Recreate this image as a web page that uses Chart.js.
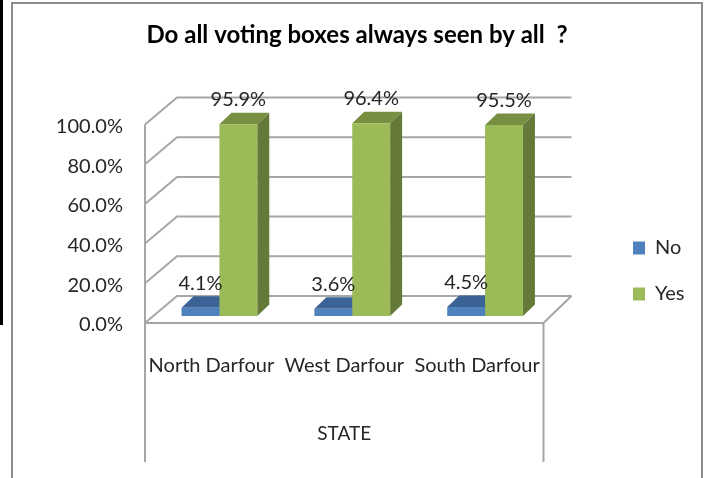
<!DOCTYPE html>
<html>
<head>
<meta charset="utf-8">
<title>Voting boxes</title>
<script src="https://cdn.jsdelivr.net/npm/chart.js"></script>
<style>
    html, body { margin: 0; padding: 0; background: #fff; }
    #wrap { position: relative; width: 707px; height: 478px; overflow: hidden; }
    #chart { position: absolute; left: 0; top: 0; }
    /* outer frame around the chart, open at the bottom */
    #frame { position: absolute; left: 11px; top: 2px; width: 688px; height: 500px; border: 2px solid #8c8c8c; }
    #blackEdge { position: absolute; left: 0; top: 0; width: 3px; height: 325px; background: #000; }
</style>
</head>
<body>
<div id="wrap">
    <canvas id="chart" width="707" height="478"></canvas>
    <div id="blackEdge"></div>
    <div id="frame"></div>
</div>
<script>
const chartTitle = 'Do all voting boxes always seen by all  ?';
const axisTitle = 'STATE';
const states = ['North Darfour', 'West Darfour', 'South Darfour'];
const noValues = [4.1, 3.6, 4.5];
const yesValues = [95.9, 96.4, 95.5];
const yTicks = [0, 20, 40, 60, 80, 100];

const fontName = 'Lato, "Open Sans", sans-serif';
const textColor = '#262626';
const gridColor = '#a6a6a6';

// depth of the fake 3D box and of the columns, in pixels
const wallDx = 32, wallDy = -27;
const barDx = 12, barDy = -11.5;
// columns stand a little inside the floor
const barShiftX = 8;

function shade(ctx, points, color) {
    ctx.fillStyle = color;
    ctx.beginPath();
    points.forEach((p, i) => i ? ctx.lineTo(p[0], p[1]) : ctx.moveTo(p[0], p[1]));
    ctx.closePath();
    ctx.fill();
}

// Back wall, left wall, floor and the two drop lines under the floor
const boxPlugin = {
    id: 'box',
    beforeDatasetsDraw(chart) {
        const ctx = chart.ctx;
        const y = chart.scales.y;
        const left = chart.chartArea.left, right = chart.chartArea.right;
        const zero = y.getPixelForValue(0);
        ctx.save();
        ctx.strokeStyle = gridColor;
        ctx.lineWidth = 2;
        yTicks.forEach(t => {
            const py = y.getPixelForValue(t);
            ctx.beginPath();
            ctx.moveTo(left, py);
            ctx.lineTo(left + wallDx, py + wallDy);
            ctx.lineTo(right + wallDx - 4, py + wallDy);
            ctx.stroke();
        });
        ctx.beginPath();
        ctx.moveTo(left, y.getPixelForValue(100));
        ctx.lineTo(left, 462);
        ctx.moveTo(right, 462);
        ctx.lineTo(right, zero);
        ctx.lineTo(right + wallDx - 4, zero + wallDy);
        ctx.moveTo(left, zero);
        ctx.lineTo(right, zero);
        ctx.stroke();
        ctx.restore();
    }
};

// Top and side faces of each column, then the value labels
const columnPlugin = {
    id: 'columns',
    beforeDatasetsDraw(chart) {
        const ctx = chart.ctx;
        ctx.save();
        ctx.translate(barShiftX, 0);
        const faces = [['#3b6395', '#3b6395'], ['#778f41', '#657a39']];
        chart.data.datasets.forEach((ds, i) => {
            chart.getDatasetMeta(i).data.forEach(bar => {
                const l = bar.x - bar.width / 2, r = bar.x + bar.width / 2;
                shade(ctx, [[l, bar.y], [l + barDx, bar.y + barDy], [r + barDx, bar.y + barDy], [r, bar.y]], faces[i][0]);
                shade(ctx, [[r, bar.y], [r + barDx, bar.y + barDy], [r + barDx, bar.base + barDy], [r, bar.base]], faces[i][1]);
            });
        });
    },
    afterDatasetsDraw(chart) {
        const ctx = chart.ctx;
        ctx.restore();
        ctx.save();
        ctx.font = '20px ' + fontName;
        ctx.fillStyle = textColor;
        ctx.textAlign = 'center';
        ctx.textBaseline = 'middle';
        chart.data.datasets.forEach((ds, i) => {
            chart.getDatasetMeta(i).data.forEach((bar, j) => {
                ctx.fillText(ds.data[j].toFixed(1) + '%', bar.x + barShiftX, bar.y + barDy - 13);
            });
        });
        ctx.restore();
    }
};

// Move the legend off the plot, next to the right edge, and centre the title over the frame
const legendSpot = {
    id: 'legendSpot',
    afterLayout(chart) {
        const l = chart.legend;
        const w = l.right - l.left, h = l.bottom - l.top;
        l.left = 607;
        l.right = 607 + w;
        l.top = 271 - h / 2;
        l.bottom = l.top + h;
        chart.titleBlock.left = 0;
        chart.titleBlock.right = 714;
    }
};

new Chart(document.getElementById('chart'), {
    type: 'bar',
    data: {
        labels: states,
        datasets: [
            { label: 'No', data: noValues, backgroundColor: '#4f81bd', yAxisID: 'yBars' },
            { label: 'Yes', data: yesValues, backgroundColor: '#9bbb59', yAxisID: 'yBars' }
        ]
    },
    plugins: [boxPlugin, columnPlugin, legendSpot],
    options: {
        responsive: false,
        animation: false,
        layout: { padding: { right: 76 } },
        datasets: { bar: { categoryPercentage: 0.57, barPercentage: 1 } },
        plugins: {
            tooltip: { enabled: false },
            title: {
                display: true,
                text: chartTitle,
                color: '#000',
                font: { family: fontName, size: 24, weight: 'bold', lineHeight: '26px' },
                padding: { top: 22, bottom: 12 }
            },
            legend: {
                position: 'right',
                labels: {
                    color: textColor,
                    font: { family: fontName, size: 20 },
                    boxWidth: 12,
                    boxHeight: 13,
                    padding: 26
                }
            }
        },
        scales: {
            x: {
                grid: { display: false },
                border: { display: false },
                ticks: { color: textColor, font: { family: fontName, size: 20 }, padding: 23, maxRotation: 0, autoSkip: false },
                title: { display: true, text: axisTitle, color: textColor, font: { family: fontName, size: 19 }, padding: { top: 26, bottom: 33 } },
                afterFit(scale) { scale.height = 155; }
            },
            // labelled axis: front edge of the box
            y: {
                min: 0,
                max: 132.5,
                position: 'left',
                grid: { display: false },
                border: { display: false },
                afterBuildTicks(scale) { scale.ticks = yTicks.map(v => ({ value: v })); },
                ticks: {
                    color: textColor,
                    font: { family: fontName, size: 20 },
                    padding: 14,
                    labelOffset: 2,
                    callback: v => v.toFixed(1) + '%'
                },
                afterFit(scale) { scale.width = 145; }
            },
            // columns stand further back than the labelled edge
            yBars: { display: false, min: -3.5, max: 128 }
        }
    }
});
</script>
</body>
</html>
